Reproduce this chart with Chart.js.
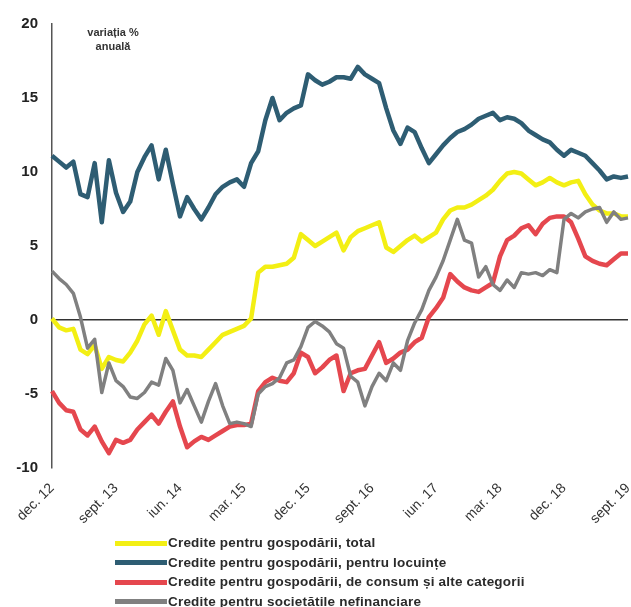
<!DOCTYPE html>
<html>
<head>
<meta charset="utf-8">
<script src="https://cdn.jsdelivr.net/npm/chart.js@4.4.1/dist/chart.umd.min.js"></script>
<style>
  html, body { margin: 0; padding: 0; background: #fff; }
  #wrap { position: relative; width: 631px; height: 607px; }
  #legend { position: absolute; left: 115px; top: 533px; font: bold 13.5px "Liberation Sans", Arial, sans-serif; color: #2a2a2a; letter-spacing: 0.2px; }
  #legend div { height: 19.5px; line-height: 19.5px; white-space: nowrap; }
  #legend span { display: inline-block; width: 52px; height: 5px; vertical-align: middle; margin-right: 1px; }
</style>
</head>
<body>
<div id="wrap">
  <canvas id="credit-chart" width="631" height="607"></canvas>
  <div id="legend"></div>
</div>
<script>
// monthly labels, dec. 2012 - sept. 2019
const monthNames = ["ian.", "feb.", "mar.", "apr.", "mai", "iun.", "iul.", "aug.", "sept.", "oct.", "nov.", "dec."];
const months = [];
for (let i = 0; i < 82; i++) {
  const m = (11 + i) % 12;
  const y = 12 + Math.floor((11 + i) / 12);
  months.push(monthNames[m] + " " + y);
}

const seriesNames = [
  "Credite pentru gospodării, total",
  "Credite pentru gospodării, pentru locuințe",
  "Credite pentru gospodării, de consum și alte categorii",
  "Credite pentru societățile nefinanciare",
];

const householdsTotal = [
  0.1, -0.5, -0.7, -0.6, -2.0, -2.3, -1.7, -3.3, -2.5, -2.7,
  -2.8, -2.2, -1.4, -0.3, 0.3, -1.0, 0.6, -0.7, -2.0, -2.4,
  -2.4, -2.5, -2.0, -1.5, -1.0, -0.8, -0.6, -0.4, 0.1, 3.2,
  3.6, 3.6, 3.7, 3.8, 4.2, 5.8, 5.4, 5.0, 5.3, 5.6,
  5.9, 4.7, 5.6, 6.0, 6.2, 6.4, 6.6, 4.9, 4.6, 5.0,
  5.4, 5.7, 5.3, 5.6, 5.9, 6.8, 7.4, 7.6, 7.6, 7.8,
  8.1, 8.4, 8.8, 9.4, 9.9, 10.0, 9.9, 9.5, 9.1, 9.3,
  9.6, 9.3, 9.1, 9.3, 9.4, 8.5, 7.8, 7.4, 7.2, 7.2,
  7.0, 7.0,
];

const householdsHousing = [
  11.1, 10.7, 10.3, 10.7, 8.5, 8.3, 10.6, 6.6, 10.8, 8.6,
  7.3, 8.0, 10.0, 11.0, 11.8, 9.5, 11.5, 9.2, 7.0, 8.3,
  7.5, 6.8, 7.6, 8.5, 9.0, 9.3, 9.5, 9.0, 10.6, 11.4,
  13.5, 15.0, 13.5, 14.0, 14.3, 14.5, 16.6, 16.2, 15.9, 16.1,
  16.4, 16.4, 16.3, 17.1, 16.6, 16.3, 16.0, 14.3, 12.8, 11.9,
  13.0, 12.7, 11.6, 10.6, 11.2, 11.8, 12.3, 12.7, 12.9, 13.2,
  13.6, 13.8, 14.0, 13.5, 13.7, 13.6, 13.3, 12.8, 12.5, 12.2,
  12.0, 11.5, 11.1, 11.5, 11.3, 11.1, 10.6, 10.1, 9.5, 9.7,
  9.6, 9.7,
];

const householdsConsumer = [
  -4.8, -5.6, -6.1, -6.2, -7.4, -7.8, -7.2, -8.2, -9.0, -8.1,
  -8.3, -8.1, -7.4, -6.9, -6.4, -7.0, -6.2, -5.5, -7.2, -8.6,
  -8.2, -7.9, -8.1, -7.8, -7.5, -7.2, -7.1, -7.1, -7.0, -4.8,
  -4.2, -3.9, -4.1, -4.2, -3.6, -2.2, -2.5, -3.6, -3.2, -2.7,
  -2.4, -4.8, -3.6, -3.4, -3.3, -2.4, -1.5, -2.9, -2.6, -2.2,
  -2.0, -1.5, -1.2, 0.2, 0.8, 1.5, 3.1, 2.6, 2.2, 2.0,
  1.9, 2.2, 2.5, 4.3, 5.4, 5.7, 6.2, 6.4, 5.8, 6.5,
  6.9, 7.0, 7.0, 6.6, 5.5, 4.3, 4.0, 3.8, 3.7, 4.1,
  4.5, 4.5,
];

const nonFinancialCorps = [
  3.3, 2.8, 2.4, 1.8, 0.2, -1.9, -1.3, -4.9, -2.9, -4.1,
  -4.5, -5.2, -5.3, -4.9, -4.2, -4.4, -2.6, -3.4, -5.6, -4.7,
  -5.8, -6.9, -5.5, -4.3, -5.8, -7.0, -6.9, -7.0, -7.2, -5.0,
  -4.5, -4.3, -3.9, -2.9, -2.7, -1.8, -0.5, -0.1, -0.4, -0.8,
  -1.6, -1.9, -3.8, -4.2, -5.8, -4.5, -3.6, -4.1, -2.9, -3.4,
  -1.4, -0.2, 0.7, 2.0, 2.9, 4.0, 5.4, 6.8, 5.4, 5.2,
  2.9, 3.6, 2.4, 2.0, 2.7, 2.2, 3.2, 3.1, 3.2, 3.0,
  3.4, 3.2, 6.8, 7.2, 6.9, 7.3, 7.5, 7.6, 6.6, 7.3,
  6.8, 6.9,
];

const colors = ["#f3ef14", "#2e5d73", "#e5474e", "#808080"];
const widths = [4.5, 4.5, 4.5, 3.5];
const series = [householdsTotal, householdsHousing, householdsConsumer, nonFinancialCorps];

const FONT = '"Liberation Sans", Arial, sans-serif';

// small caption inside the plot, top-left
const unitCaption = {
  id: "unitCaption",
  afterDraw(chart) {
    const ctx = chart.ctx;
    const x = chart.chartArea.left + 61;
    const y = chart.chartArea.top + 9;
    ctx.save();
    ctx.font = "bold 11px " + FONT;
    ctx.fillStyle = "#333";
    ctx.textAlign = "center";
    ctx.textBaseline = "middle";
    ctx.fillText("variația %", x, y);
    ctx.fillText("anuală", x, y + 14);
    ctx.restore();
  },
};

const datasets = series.map((d, i) => ({
  label: seriesNames[i],
  data: d,
  borderColor: colors[i],
  backgroundColor: colors[i],
  borderWidth: widths[i],
  pointRadius: 0,
  tension: 0,
  borderJoinStyle: "round",
  order: i === 3 ? 0 : 1,
}));

new Chart(document.getElementById("credit-chart"), {
  type: "line",
  data: { labels: months, datasets },
  plugins: [unitCaption],
  options: {
    responsive: false,
    animation: false,
    layout: { padding: { top: 24, right: 3, left: 0, bottom: 0 } },
    plugins: {
      legend: { display: false },
      tooltip: { enabled: false },
    },
    scales: {
      x: {
        offset: false,
        grid: { display: false },
        border: { display: false },
        afterFit(scale) {
          scale.height = 139;
          scale.paddingRight = 0;
          scale.paddingLeft = 0;
        },
        ticks: {
          autoSkip: false,
          maxRotation: 45,
          minRotation: 45,
          padding: 4,
          color: "#333",
          font: { family: FONT, size: 14 },
          callback(val, idx) { return idx % 9 === 0 ? months[idx] : ""; },
        },
      },
      y: {
        min: -10,
        max: 20,
        afterFit(scale) { scale.width = 52; },
        border: { display: true, color: "#555", width: 1.5 },
        grid: {
          drawTicks: false,
          lineWidth: 1.5,
          color: (c) => (c.tick && c.tick.value === 0 ? "#333" : "rgba(0,0,0,0)"),
        },
        ticks: {
          stepSize: 5,
          padding: 14,
          color: "#222",
          font: { family: FONT, size: 15, weight: "bold" },
        },
      },
    },
  },
});

// legend, one entry per row
const legendEl = document.getElementById("legend");
seriesNames.forEach((name, i) => {
  const row = document.createElement("div");
  const sw = document.createElement("span");
  sw.style.background = colors[i];
  row.appendChild(sw);
  row.appendChild(document.createTextNode(name));
  legendEl.appendChild(row);
});
</script>
</body>
</html>
